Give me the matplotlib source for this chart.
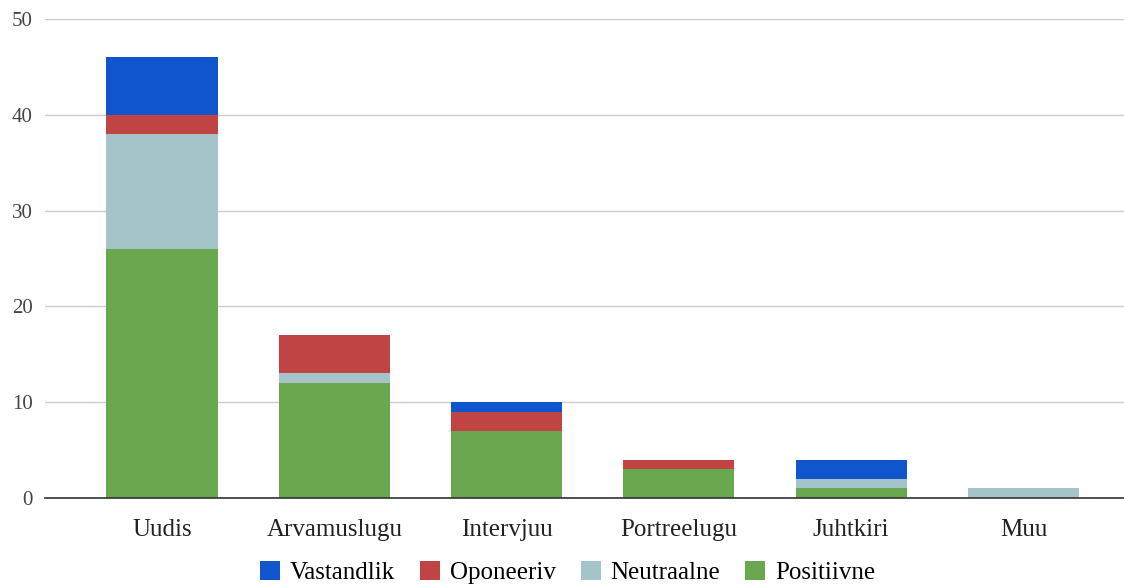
import matplotlib.pyplot as plt
import numpy as np

categories = ["Uudis", "Arvamuslugu", "Intervjuu", "Portreelugu", "Juhtkiri", "Muu"]
positiivne = [26, 12, 7, 3, 1, 0]
neutraalne = [12, 1, 0, 0, 1, 1]
oponeeriv = [2, 4, 2, 1, 0, 0]
vastandlik = [6, 0, 1, 0, 2, 0]

series = [
    ("Positiivne", positiivne, "#6aa84f"),
    ("Neutraalne", neutraalne, "#a5c4c9"),
    ("Oponeeriv", oponeeriv, "#c04444"),
    ("Vastandlik", vastandlik, "#1155cc"),
]

plt.rcParams["font.family"] = ["Liberation Serif", "DejaVu Serif"]

fig = plt.figure(figsize=(11.24, 5.88), dpi=100)
ax = fig.add_axes([0.04, 0.153, 0.96, 0.815])

x = np.arange(len(categories))
bottom = np.zeros(len(categories))
handles = {}
for name, vals, color in series:
    vals = np.array(vals, dtype=float)
    handles[name] = ax.bar(x, vals, bottom=bottom, width=0.645, color=color,
                           label=name, zorder=3)
    bottom += vals

ax.set_xlim(-0.679, 5.583)
ax.set_ylim(0, 50)
ax.set_yticks([0, 10, 20, 30, 40, 50])
ax.set_xticks(x)
ax.set_xticklabels(categories, fontsize=18)
ax.tick_params(axis="y", labelsize=15, colors="#444444", length=0, pad=9)
ax.tick_params(axis="x", length=0, pad=15, labelcolor="#222222")
ax.grid(axis="y", color="#cccccc", lw=1, zorder=0)
for s in ["top", "right", "left"]:
    ax.spines[s].set_visible(False)
ax.spines["bottom"].set_color("#333333")
ax.spines["bottom"].set_linewidth(1.2)
ax.spines["bottom"].set_zorder(4)

order = ["Vastandlik", "Oponeeriv", "Neutraalne", "Positiivne"]
fig.legend([handles[n] for n in order], order, loc="lower center",
           bbox_to_anchor=(0.505, -0.032), ncol=4, frameon=False, fontsize=18,
           handlelength=0.8, handleheight=0.8, handletextpad=0.4, columnspacing=1.0)

fig.savefig("out.png", dpi=100)
